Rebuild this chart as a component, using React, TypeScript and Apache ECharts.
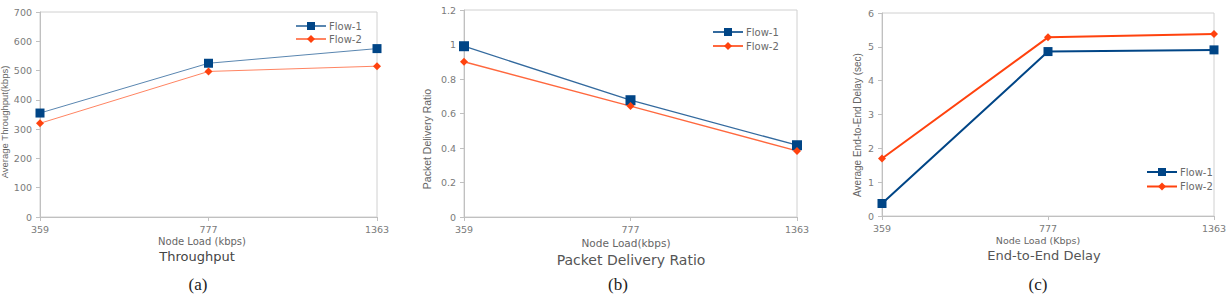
import React, { useEffect, useRef } from "react";
import * as echarts from "echarts";

const categories = ["359", "777", "1363"];
const throughputFlow1 = [355, 525, 575];
const throughputFlow2 = [320, 497, 515];
const pdrFlow1 = [0.99, 0.677, 0.416];
const pdrFlow2 = [0.9, 0.643, 0.383];
const delayFlow1 = [0.37, 4.86, 4.91];
const delayFlow2 = [1.7, 5.28, 5.38];
const flowNames = ["Flow-1", "Flow-2"];

const BLUE = "#004586";
const ORANGE = "#ff420e";
const AXIS = "#c0c0c0";
const TICK_TEXT = "#7a7a7a";
const FONT = "DejaVu Sans";

export default function App() {
  const ref = useRef<HTMLDivElement>(null);
  useEffect(() => {
    if (!ref.current) return;
    const chart = echarts.init(ref.current, undefined, { renderer: "svg" });

    const grids = [
      { left: 40, top: 12, width: 337, height: 205 },
      { left: 464, top: 10, width: 333, height: 207 },
      { left: 882, top: 13, width: 332, height: 203 },
    ];
    const yRanges = [
      { min: 0, max: 700, interval: 100 },
      { min: 0, max: 1.2, interval: 0.2 },
      { min: 0, max: 6, interval: 1 },
    ];
    const prefixes = ["a", "b", "c"];
    const data1 = [throughputFlow1, pdrFlow1, delayFlow1];
    const data2 = [throughputFlow2, pdrFlow2, delayFlow2];
    const lineWidths = [1, 1.3, 2];
    const lineOpacity = [0.65, 0.8, 1];
    const squareSize = [9, 10, 9];

    const series: any[] = [];
    for (let i = 0; i < 3; i++) {
      series.push({
        name: prefixes[i] + "|" + flowNames[0],
        type: "line",
        xAxisIndex: i,
        yAxisIndex: i,
        data: data1[i],
        symbol: "rect",
        symbolSize: squareSize[i],
        itemStyle: { color: BLUE },
        lineStyle: { color: BLUE, width: lineWidths[i], opacity: lineOpacity[i] },
      });
      series.push({
        name: prefixes[i] + "|" + flowNames[1],
        type: "line",
        xAxisIndex: i,
        yAxisIndex: i,
        data: data2[i],
        symbol: "diamond",
        symbolSize: 8,
        itemStyle: { color: ORANGE },
        lineStyle: { color: ORANGE, width: lineWidths[i], opacity: lineOpacity[i] },
      });
    }

    const legendPos = [
      { left: 290, top: 16, itemGap: 3 },
      { left: 707, top: 22, itemGap: 4 },
      { left: 1141, top: 162, itemGap: 4.5 },
    ];

    const text = (
      x: number,
      y: number,
      t: string,
      size: number,
      color: string,
      opts: any = {}
    ) => ({
      type: "text",
      x,
      y,
      rotation: opts.rotation || 0,
      style: {
        text: t,
        fontSize: size,
        fontFamily: opts.family || FONT,
        fill: color,
        textAlign: "center",
        textVerticalAlign: "middle",
      },
    });

    chart.setOption({
      animation: false,
      backgroundColor: "#ffffff",
      grid: grids.map((g) => ({
        ...g,
        show: true,
        borderColor: "#d0d0d0",
        borderWidth: 1,
        backgroundColor: "transparent",
      })),
      xAxis: grids.map((_, i) => ({
        type: "category",
        gridIndex: i,
        data: categories,
        boundaryGap: false,
        axisLine: { lineStyle: { color: AXIS } },
        axisTick: { show: true, length: 4, lineStyle: { color: AXIS } },
        axisLabel: { color: TICK_TEXT, fontSize: 9.5, fontFamily: FONT, margin: 7 },
        splitLine: { show: false },
      })),
      yAxis: grids.map((_, i) => ({
        type: "value",
        gridIndex: i,
        ...yRanges[i],
        axisLine: { show: true, lineStyle: { color: AXIS } },
        axisTick: { show: true, length: 4, lineStyle: { color: AXIS } },
        axisLabel: { color: TICK_TEXT, fontSize: 9.5, fontFamily: FONT, margin: 8 },
        splitLine: { show: false },
      })),
      legend: legendPos.map((p, i) => ({
        left: p.left,
        top: p.top,
        orient: "vertical",
        itemGap: p.itemGap,
        itemWidth: 30,
        itemHeight: 10,
        data: flowNames.map((n) => prefixes[i] + "|" + n),
        formatter: (name: string) => name.split("|")[1],
        textStyle: { color: "#6a6a6a", fontSize: 10, fontFamily: FONT, padding: [0, 0, 0, -2] },
        selectedMode: false,
      })),
      graphic: [
        text(4, 122, "Average Throughput(kbps)", 9.5, "#666", { rotation: Math.PI / 2, family: "Liberation Sans" }),
        text(427, 139, "Packet Delivery Ratio", 10.5, "#666", { rotation: Math.PI / 2, family: "Liberation Sans" }),
        text(857, 125, "Average End-to-End Delay (sec)", 10, "#666", { rotation: Math.PI / 2, family: "Liberation Sans" }),
        text(202, 241, "Node Load (kbps)", 10, "#666"),
        text(626, 242.5, "Node Load(kbps)", 10.5, "#666"),
        text(1038, 240, "Node Load (Kbps)", 9.5, "#666"),
        text(197, 256, "Throughput", 13, "#444"),
        text(631, 260, "Packet Delivery Ratio", 14, "#555"),
        text(1044, 255, "End-to-End Delay", 13, "#555"),
        text(198, 284, "(a)", 17, "#222", { family: "Liberation Serif" }),
        text(618, 284, "(b)", 17, "#222", { family: "Liberation Serif" }),
        text(1038, 284, "(c)", 17, "#222", { family: "Liberation Serif" }),
      ],
      series,
    });
    return () => chart.dispose();
  }, []);
  return (
    <div
      ref={ref}
      style={{ position: "absolute", left: 0, top: 0, width: 1230, height: 296, background: "#fff" }}
    />
  );
}
